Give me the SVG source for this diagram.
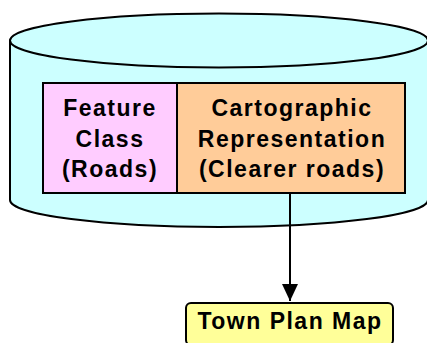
<svg xmlns="http://www.w3.org/2000/svg" width="427" height="343" viewBox="0 0 427 343">
<defs>
<style>
.t{font-family:"Liberation Sans",Arial,sans-serif;font-weight:bold;font-size:23px;letter-spacing:1.5px;fill:#000;text-anchor:middle}
.s{stroke:#000;stroke-width:2}
</style>
<marker id="ah" markerWidth="17" markerHeight="16" refX="17" refY="8" orient="auto" markerUnits="userSpaceOnUse" viewBox="0 0 17 16">
<path d="M0,0 L17,8 L0,16 Z" fill="#000"/>
</marker>
</defs>
<rect width="427" height="343" fill="#fff"/>
<g id="database">
<path class="s" d="M10,40.5 L10,200 A209,27 0 0 0 428,200 L428,40.5 Z" fill="#ccffff"/>
<ellipse class="s" cx="219" cy="40.5" rx="209" ry="27" fill="#ccffff"/>
</g>
<g id="feature-class">
<rect class="s" x="43" y="83" width="134" height="110" fill="#ffccff"/>
<text class="t" x="110" y="116">Feature</text>
<text class="t" x="110" y="146.5">Class</text>
<text class="t" x="110" y="176.5">(Roads)</text>
</g>
<g id="cartographic">
<rect class="s" x="177" y="83" width="228" height="110" fill="#ffcc99"/>
<text class="t" x="292" y="116">Cartographic</text>
<text class="t" x="292" y="146.5">Representation</text>
<text class="t" x="292" y="176.5">(Clearer roads)</text>
</g>
<g id="connectors">
<line class="s" x1="290" y1="193" x2="290" y2="301" marker-end="url(#ah)"/>
</g>
<g id="town-plan-map">
<rect class="s" x="186" y="303" width="207" height="42" rx="5" fill="#ffff99"/>
<text class="t" x="290" y="329">Town Plan Map</text>
</g>
</svg>
